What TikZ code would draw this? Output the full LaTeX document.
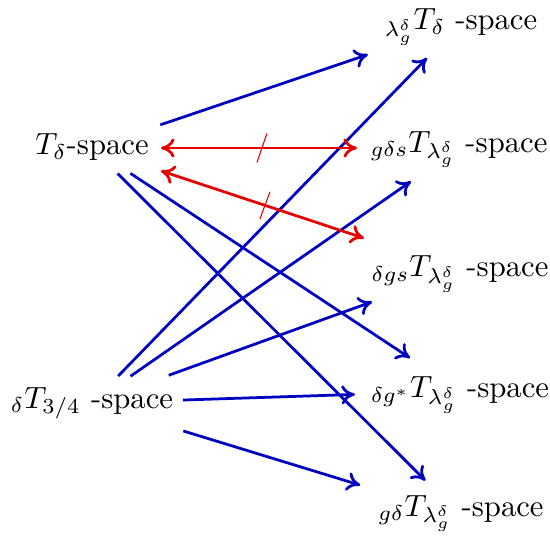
\documentclass[tikz,border=0pt]{standalone}
\usetikzlibrary{arrows.meta}
\newdimen\pxu \pxu=0.326pt
\definecolor{bluec}{RGB}{0,0,192}
\definecolor{redc}{RGB}{230,0,0}
\tikzset{
  lbl/.style={inner sep=0pt, outer sep=0pt, anchor=center, text height=5pt},
  cmtip/.tip={Computer Modern Rightarrow[length=4.4pt,width=6.2pt]},
  bluearrow/.style={draw=bluec, line width=0.9pt, -cmtip},
  redarrow/.style={draw=redc, line width=0.9pt, cmtip-cmtip},
  slash/.style={draw=redc, line width=0.35pt}
}
\begin{document}
\begin{tikzpicture}[x=\pxu,y=-\pxu]
\useasboundingbox (0,0) rectangle (550,535);
% nodes (centres at the points the arrows aim at)
\node[lbl, text depth=0.44pt] (A) at (92,148) {$T_\delta$-space};
\node[lbl, text depth=1.74pt] (B) at (92,403) {${}_\delta T_{3/4}$ -space};
\node[lbl, text depth=0.44pt] (R1) at (461,23) {${}_{\lambda^\delta_g}T_\delta$ -space};
\node[lbl, text depth=2.39pt] (R2) at (459,148) {${}_{g\delta s}T_{\lambda^\delta_g}$ -space};
\node[lbl, text depth=0.44pt] (R3) at (460,270) {${}_{\delta gs}T_{\lambda^\delta_g}$ -space};
\node[lbl, text depth=0.44pt] (R4) at (460,391) {${}_{\delta g^*}T_{\lambda^\delta_g}$ -space};
\node[lbl, text depth=5pt] (R5) at (461,516) {${}_{g\delta}T_{\lambda^\delta_g}$ -space};
% blue arrows
\draw[bluearrow, shorten <=72.1\pxu, shorten >=98.4\pxu] (A.center) -- (R1.center);
\draw[bluearrow, shorten <=46.0\pxu, shorten >=59.9\pxu] (A.center) -- (R4.center);
\draw[bluearrow, shorten <=36.1\pxu, shorten >=50.2\pxu] (A.center) -- (R5.center);
\draw[bluearrow, shorten <=37.5\pxu, shorten >=48.8\pxu] (B.center) -- (R1.center);
\draw[bluearrow, shorten <=46.9\pxu, shorten >=58.6\pxu] (B.center) -- (R2.center);
\draw[bluearrow, shorten <=81.6\pxu, shorten >=93.6\pxu] (B.center) -- (R3.center);
\draw[bluearrow, shorten <=91.0\pxu, shorten >=105.1\pxu] (B.center) -- (R4.center);
\draw[bluearrow, shorten <=95.5\pxu, shorten >=105.4\pxu] (B.center) -- (R5.center);
% red arrows
\draw[redarrow, shorten <=69\pxu, shorten >=102\pxu] (A.center) -- (R2.center);
\draw[redarrow, shorten <=72.7\pxu, shorten >=101.2\pxu] (A.center) -- (R3.center);
% slash marks
\path (A.center) -- (R2.center) coordinate[pos=0.463] (S1);
\path (A.center) -- (R3.center) coordinate[pos=0.47] (S2);
\draw[slash] (S1) +(-5,14.5) -- +(5,-14.5);
\draw[slash] (S2) +(-5,13.5) -- +(5,-13.5);
\end{tikzpicture}
\end{document}
